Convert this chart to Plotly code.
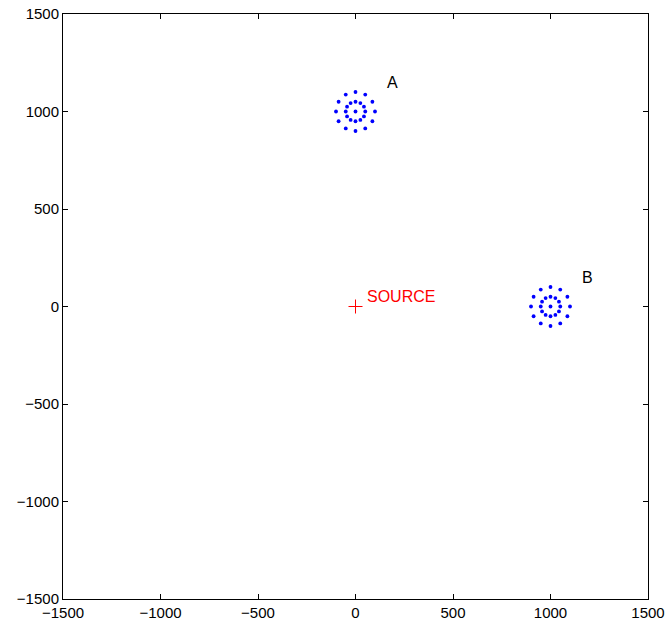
import numpy as np
import plotly.graph_objects as go

# Cluster centres and labels
cluster_names = ["A", "B"]
cluster_x = [0, 1000]
cluster_y = [1000, 0]
label_x = [150, 1150]
label_y = [1150, 150]

# Ring geometry for each cluster (centre point + two rings of 12 points)
ring_radii = [50, 100]
ring_angles_deg = [0, 30, 60, 90, 120, 150, 180, 210, 240, 270, 300, 330]

source_x = [0]
source_y = [0]
source_label = "SOURCE"
source_label_x = 50
source_label_y = 50

tick_vals = [-1500, -1000, -500, 0, 500, 1000, 1500]
tick_text = ["\u22121500", "\u22121000", "\u2212500", "0", "500", "1000", "1500"]

FONT = "Liberation Sans, Arial, Helvetica"

fig = go.Figure()

for cx, cy in zip(cluster_x, cluster_y):
    xs = [cx]
    ys = [cy]
    for r in ring_radii:
        for a in ring_angles_deg:
            xs.append(cx + r * np.cos(np.radians(a)))
            ys.append(cy + r * np.sin(np.radians(a)))
    fig.add_trace(go.Scatter(x=xs, y=ys, mode="markers",
                             marker=dict(color="#0000ff", size=3.8),
                             showlegend=False, hoverinfo="skip"))

fig.add_trace(go.Scatter(x=source_x, y=source_y, mode="markers",
                         marker=dict(symbol="cross-thin", size=10,
                                     line=dict(color="#ff0000", width=1)),
                         showlegend=False))

for name, lx, ly in zip(cluster_names, label_x, label_y):
    fig.add_annotation(x=lx, y=ly, text=name, showarrow=False,
                       xanchor="left", yanchor="middle",
                       font=dict(family=FONT, size=16, color="black"))
fig.add_annotation(x=source_label_x, y=source_label_y, text=source_label, showarrow=False,
                   xanchor="left", yanchor="middle",
                   font=dict(family=FONT, size=16, color="#ff0000"))

axis_common = dict(range=[-1500, 1500], tickvals=tick_vals, ticktext=tick_text,
                   ticks="inside", ticklen=5, tickwidth=1, tickcolor="black",
                   showline=True, linecolor="black", linewidth=1, mirror="ticks",
                   showgrid=False, zeroline=False, automargin=False,
                   tickfont=dict(family=FONT, size=15, color="black"))

fig.update_layout(
    template="none",
    width=668, height=624,
    margin=dict(l=63, r=20, t=14, b=25),
    plot_bgcolor="white", paper_bgcolor="white",
    xaxis=axis_common, yaxis=axis_common,
)

fig.write_html("out.html",
               config={"displayModeBar": False},
               post_script="document.body.style.margin='0';document.body.style.overflow='hidden';")
